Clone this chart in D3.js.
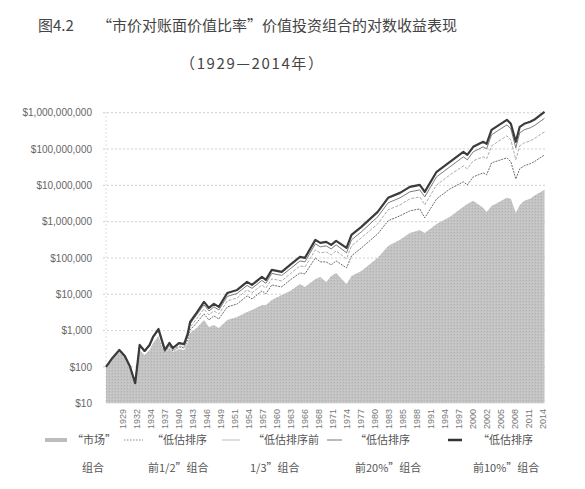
<!DOCTYPE html>
<html>
<head>
<meta charset="utf-8">
<script src="https://cdn.jsdelivr.net/npm/d3@7"></script>
<style>
  body { margin: 0; background: #fff; }
  svg { display: block; }
</style>
</head>
<body>
<svg id="chart" width="585" height="489"></svg>
<script>
// values (dollars, log scale)
let years = [1926.0, 1927.3, 1928.7, 1929.8, 1930.8, 1931.9, 1932.8, 1933.8, 1934.8, 1935.5,
    1936.6, 1937.9, 1938.8, 1939.5, 1940.8, 1941.8, 1942.5, 1943.0, 1944.3, 1945.8,
    1946.8, 1947.8, 1948.8, 1950.5, 1952.5, 1954.5, 1955.5, 1957.5, 1958.3, 1959.5,
    1961.5, 1963.2, 1965.2, 1966.2, 1968.3, 1969.3, 1970.5, 1971.5, 1972.5, 1974.6,
    1975.6, 1977.6, 1980.9, 1983.0, 1985.4, 1987.4, 1989.4, 1990.4, 1992.8, 1995.5,
    1998.2, 1999.0, 2000.2, 2002.2, 2002.9, 2003.9, 2007.0, 2007.8, 2008.8, 2009.6,
    2010.5, 2011.7, 2012.5, 2014.6];

let market = [100, 166, 259, 189, 100, 34, 294, 214, 294, 458,
    714, 228, 333, 259, 313, 294, 458, 864, 1190, 1970,
    1260, 1440, 1190, 1970, 2380, 3270, 3720, 5100, 5100, 7010,
    9620, 12400, 19300, 16000, 26500, 30100, 22000, 32100, 38900, 19300,
    32100, 44100, 101000, 215000, 316000, 491000, 594000, 491000, 869000, 1.36e6,
    2.56e6, 3.09e6, 3.74e6, 2.40e6, 1.86e6, 2.72e6, 4.53e6, 4.25e6, 1.75e6, 2.90e6,
    3.74e6, 4.25e6, 5.14e6, 7.52e6];

let half = [100, 172, 285, 195, 104, 35, 379, 259, 379, 629,
    978, 243, 379, 275, 355, 334, 555, 1050, 1630, 2890,
    1970, 2550, 2100, 4480, 5430, 9040, 7480, 12400, 10300, 18100,
    16000, 24900, 38700, 36600, 101000, 78300, 78100, 64600, 83200, 53400,
    114000, 190000, 461000, 1.06e6, 1.45e6, 1.98e6, 2.25e6, 1.27e6, 4.25e6, 7.99e6,
    1.25e7, 1.03e7, 1.71e7, 2.21e7, 1.95e7, 4.16e7, 5.73e7, 4.45e7, 1.5e7, 2.86e7,
    3.46e7, 3.93e7, 4.46e7, 6.89e7];

let third = [100, 177, 294, 201, 107, 36, 391, 267, 391, 630,
    1050, 259, 404, 293, 379, 356, 629, 1270, 2100, 3960,
    2700, 3490, 2880, 6560, 7950, 13200, 11000, 18100, 15000, 26600,
    23400, 36500, 60500, 57100, 167000, 138000, 147000, 122000, 157000, 94600,
    216000, 359000, 869000, 2.12e6, 2.90e6, 4.25e6, 4.81e6, 2.90e6, 1.03e7, 1.94e7,
    3.44e7, 2.84e7, 4.73e7, 6.10e7, 5.37e7, 1.22e8, 2.31e8, 1.79e8, 5.04e7, 1.23e8,
    1.48e8, 1.68e8, 1.91e8, 2.98e8];

let top20 = [100, 177, 294, 201, 107, 36, 398, 272, 398, 660,
    1090, 276, 430, 313, 430, 404, 762, 1530, 2710, 5110,
    3490, 4510, 3720, 8730, 10600, 17600, 14600, 24100, 20000, 37600,
    33200, 50100, 83000, 78400, 245000, 203000, 216000, 178000, 230000, 139000,
    316000, 525000, 1.36e6, 3.30e6, 4.53e6, 6.63e6, 7.51e6, 4.83e6, 1.72e7, 3.24e7,
    6.11e7, 5.04e7, 8.38e7, 1.15e8, 1.01e8, 2.46e8, 4.64e8, 3.60e8, 1.08e8, 2.80e8,
    3.38e8, 3.84e8, 4.36e8, 7.0e8];

let top10 = [100, 177, 294, 201, 107, 36, 404, 276, 404, 670,
    1110, 294, 458, 333, 458, 430, 811, 1740, 3080, 6180,
    4220, 5450, 4500, 10900, 13200, 22000, 18200, 30100, 25000, 47000,
    41400, 64600, 107000, 101000, 316000, 261000, 278000, 230000, 296000, 190000,
    433000, 720000, 1.86e6, 4.53e6, 6.21e6, 9.10e6, 1.03e7, 6.62e6, 2.36e7, 4.44e7,
    8.38e7, 6.92e7, 1.15e8, 1.58e8, 1.39e8, 3.38e8, 6.37e8, 4.94e8, 1.58e8, 4.09e8,
    4.94e8, 5.61e8, 6.37e8, 1.06e9];

let yTicks = [10, 100, 1000, 10000, 100000, 1e6, 1e7, 1e8, 1e9];
let xTickYears = [1929, 1932, 1934, 1937, 1940, 1943, 1946, 1949, 1951, 1954, 1957, 1960,
    1963, 1966, 1968, 1971, 1974, 1977, 1980, 1983, 1985, 1988, 1991, 1994, 1997, 2000,
    2002, 2005, 2008, 2011, 2014];

let titleMain = "图4.2";
let titleRest = "“市价对账面价值比率”价值投资组合的对数收益表现";
let subTitle = "（1929—2014年）";
let legendTop = ["“市场”", "“低估排序", "“低估排序前", "“低估排序", "“低估排序"];
let legendBottom = ["组合", "前1/2”组合", "1/3”组合", "前20%”组合", "前10%”组合"];

let svg = d3.select("#chart");
let cjk = "'Noto Sans CJK SC', 'Noto Sans', sans-serif";

let xScale = d3.scaleLinear().domain([1926, 2014.7]).range([106, 545]);
let yScale = d3.scaleLog().domain([10, 1e9]).range([403.3, 112.7]);

// speckled grey for the market area
let defs = svg.append("defs");
let pat = defs.append("pattern").attr("id", "speck").attr("width", 3).attr("height", 3)
    .attr("patternUnits", "userSpaceOnUse");
pat.append("rect").attr("width", 3).attr("height", 3).attr("fill", "#c3c3c3");
pat.append("rect").attr("x", 1).attr("y", 1).attr("width", 1).attr("height", 1).attr("fill", "#b2b2b2");
pat.append("rect").attr("x", 2).attr("y", 0).attr("width", 1).attr("height", 1).attr("fill", "#cfcfcf");

// title
svg.append("text").attr("x", 38).attr("y", 31).text(titleMain)
    .attr("font-family", cjk).attr("font-size", 15).attr("fill", "#444");
svg.append("text").attr("x", 97).attr("y", 31).text(titleRest)
    .attr("font-family", cjk).attr("font-size", 15).attr("fill", "#444");
svg.append("text").attr("x", 180).attr("y", 69).text(subTitle)
    .attr("textLength", 143).attr("lengthAdjust", "spacing")
    .attr("font-family", cjk).attr("font-size", 15).attr("fill", "#444");

// grid
svg.append("g").selectAll("line").data(yTicks.slice(1)).enter().append("line")
    .attr("x1", 103).attr("x2", 545)
    .attr("y1", d => yScale(d)).attr("y2", d => yScale(d))
    .attr("stroke", "#c4c4c4").attr("stroke-width", 0.8).attr("stroke-dasharray", "2,2");
svg.append("line").attr("x1", 106).attr("x2", 106).attr("y1", 112).attr("y2", 404)
    .attr("stroke", "#d8d8d8").attr("stroke-width", 0.8).attr("stroke-dasharray", "2,2");

// market area
let mData = years.map((y, i) => ({year: y, v: market[i]}));
let area = d3.area().x(d => xScale(d.year)).y0(yScale(10)).y1(d => yScale(d.v));
svg.append("path").datum(mData).attr("d", area).attr("fill", "url(#speck)");

let series = [
    {vals: half, stroke: "#6e6e6e", width: 1, dash: "2,1"},
    {vals: third, stroke: "#ababab", width: 1, dash: "3,1.5"},
    {vals: top20, stroke: "#7c7c7c", width: 1, dash: null},
    {vals: top10, stroke: "#3b3b3b", width: 2.2, dash: null}
];
let line = d3.line().x(d => xScale(d.year)).y(d => yScale(d.v));
for (let s of series) {
    let data = years.map((y, i) => ({year: y, v: s.vals[i]}));
    svg.append("path").datum(data).attr("d", line).attr("fill", "none")
        .attr("stroke", s.stroke).attr("stroke-width", s.width)
        .attr("stroke-linejoin", "round")
        .attr("stroke-dasharray", s.dash);
}

// y axis
let yAxis = svg.append("g").attr("transform", "translate(106,0)")
    .call(d3.axisLeft(yScale).tickValues(yTicks).tickFormat(d3.format("$,")).tickSize(0).tickPadding(14));
yAxis.select(".domain").remove();
yAxis.selectAll("text").attr("font-family", "'Liberation Sans', Arial, sans-serif")
    .attr("font-size", 10).attr("fill", "#666");

// x axis, labels every 34 months
let tickPos = xTickYears.map((d, i) => 1929.25 + i * 34 / 12);
let xAxis = svg.append("g").attr("transform", "translate(0,404)")
    .call(d3.axisBottom(xScale).tickValues(tickPos).tickFormat((d, i) => xTickYears[i]).tickSize(0));
xAxis.select(".domain").remove();
xAxis.selectAll("text").attr("transform", "rotate(-90)").attr("x", -5).attr("y", 0)
    .attr("dy", "0.35em").attr("text-anchor", "end")
    .attr("font-family", "'Liberation Sans', Arial, sans-serif")
    .attr("font-size", 9).attr("fill", "#777");

// legend
let legend = svg.append("g");
legend.append("rect").attr("x", 45).attr("y", 438).attr("width", 22).attr("height", 4).attr("fill", "#bdbdbd");
let keys = [
    {x1: 124, x2: 143, stroke: "#888", width: 1, dash: "1.5,1.5"},
    {x1: 222, x2: 240, stroke: "#bbb", width: 1, dash: null},
    {x1: 327, x2: 342, stroke: "#777", width: 1, dash: null},
    {x1: 448, x2: 462, stroke: "#333", width: 2.5, dash: null}
];
legend.selectAll("line").data(keys).enter().append("line")
    .attr("x1", d => d.x1).attr("x2", d => d.x2).attr("y1", 440).attr("y2", 440)
    .attr("stroke", d => d.stroke).attr("stroke-width", d => d.width)
    .attr("stroke-dasharray", d => d.dash);
let topX = [72, 152, 253, 355, 478];
let botX = [82, 148, 250, 355, 473];
legend.selectAll(".lt").data(legendTop).enter().append("text").attr("class", "lt")
    .attr("x", (d, i) => topX[i]).attr("y", 444).text(d => d)
    .attr("font-family", cjk).attr("font-size", 11).attr("fill", "#555");
legend.selectAll(".lb").data(legendBottom).enter().append("text").attr("class", "lb")
    .attr("x", (d, i) => botX[i]).attr("y", 472).text(d => d)
    .attr("font-family", cjk).attr("font-size", 11).attr("fill", "#555");
</script>
</body>
</html>
